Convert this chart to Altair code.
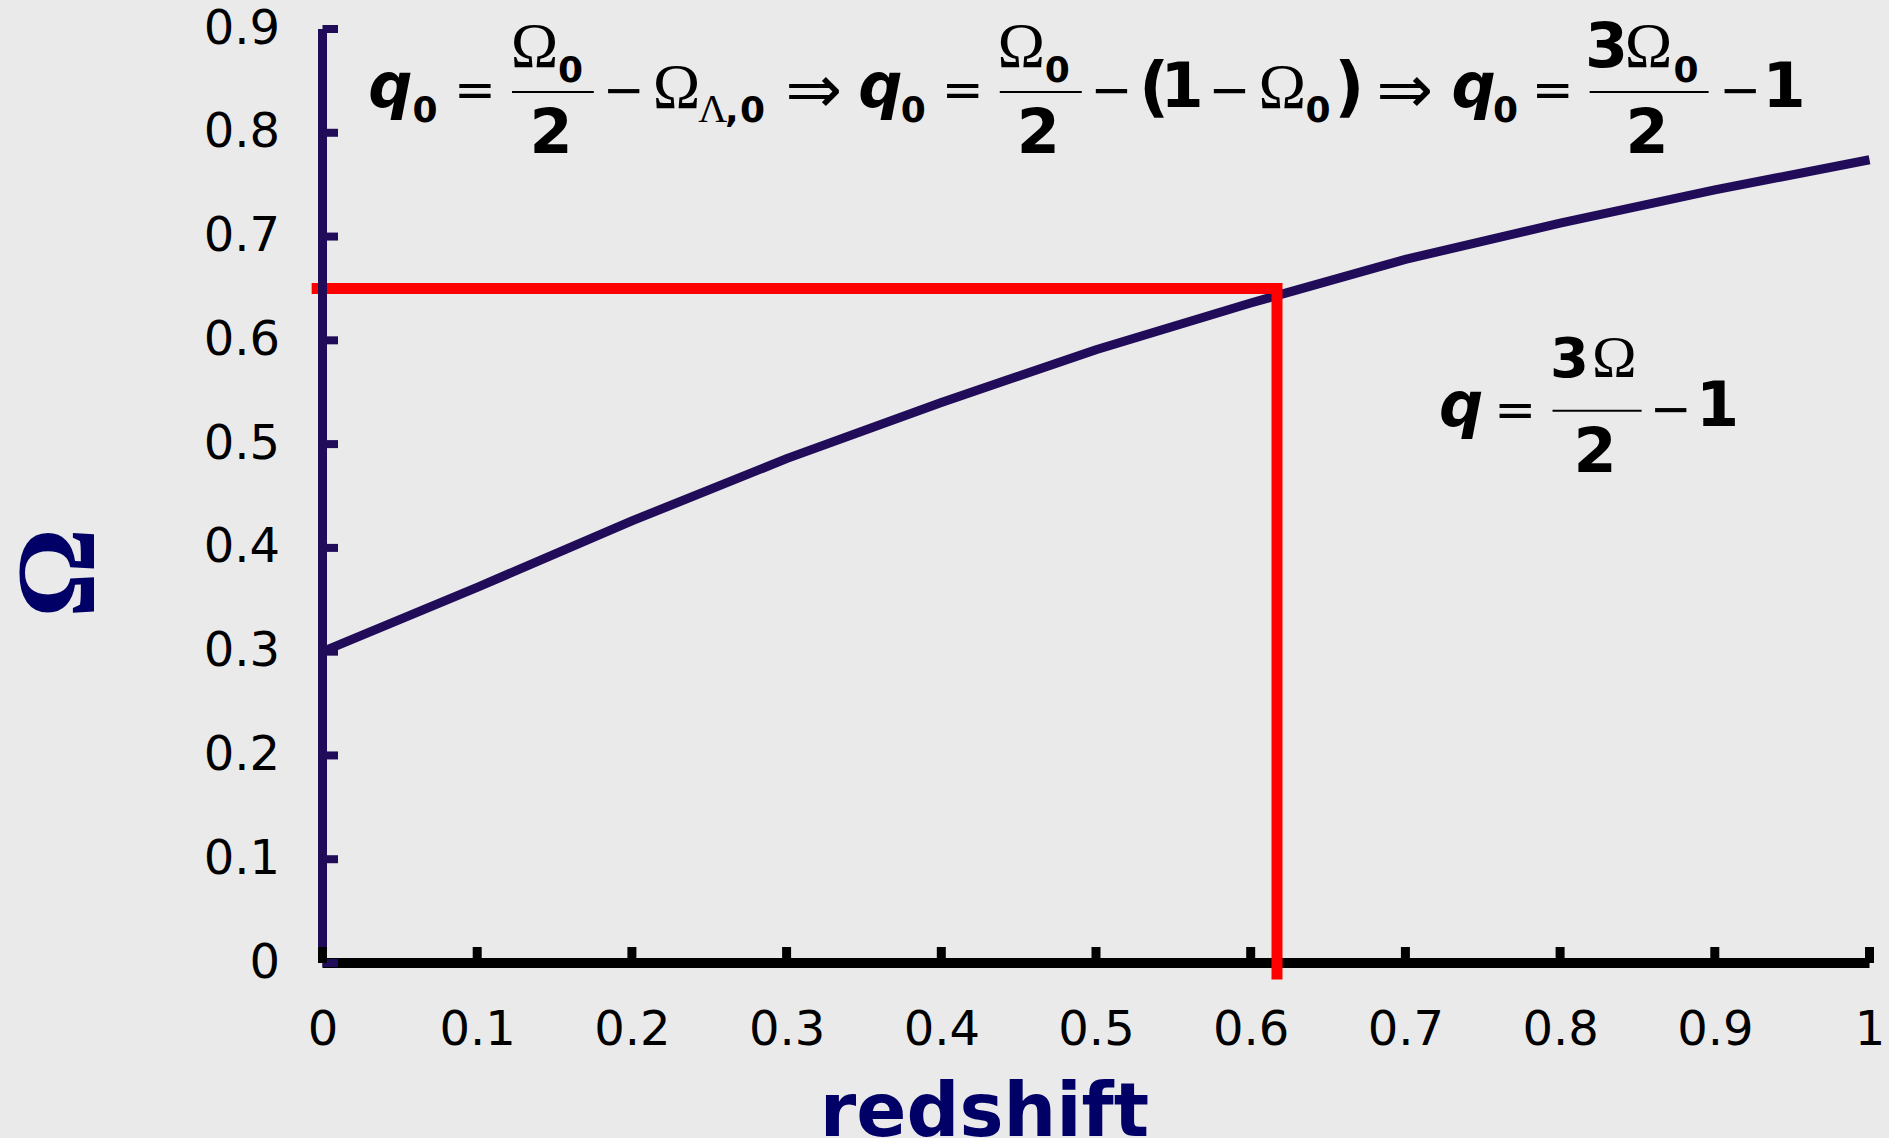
import altair as alt
import pandas as pd

# Matter density parameter Omega as a function of redshift, sampled every 0.1
redshift = [0.0, 0.1, 0.2, 0.3, 0.4, 0.5, 0.6, 0.7, 0.8, 0.9, 1.0]
omega = [0.300, 0.362, 0.426, 0.486, 0.540, 0.591, 0.636, 0.678, 0.713, 0.745, 0.774]

# Red guide: from the Omega axis across to the crossing point, then down to the redshift axis
guide_z = [-0.007, 0.617, 0.617]
guide_omega = [0.650, 0.650, -0.016]

# Axis tick values
x_ticks = [0.0, 0.1, 0.2, 0.3, 0.4, 0.5, 0.6, 0.7, 0.8, 0.9, 1.0]
y_ticks = [0.0, 0.1, 0.2, 0.3, 0.4, 0.5, 0.6, 0.7, 0.8, 0.9]

# Equation glyphs placed in (redshift, Omega) units: text, z, omega, font size, face
equation_glyphs = [
    # q0 = Omega0/2 - Omega_Lambda,0 => q0 = Omega0/2 - (1 - Omega0) => q0 = 3 Omega0/2 - 1
    ("q", 0.0439, 0.8248, 62, "italic"),
    ("0", 0.0662, 0.8104, 36, "bold"),
    ("=", 0.0985, 0.8248, 50, "plain"),
    ("Ω", 0.1370, 0.8634, 64, "serif"),
    ("0", 0.1603, 0.8489, 36, "bold"),
    ("2", 0.1477, 0.7805, 62, "bold"),
    ("\u2212", 0.1948, 0.8248, 50, "plain"),
    ("Ω", 0.2288, 0.8238, 64, "serif"),
    ("Λ", 0.2523, 0.8104, 40, "serif"),
    (",", 0.2646, 0.8104, 36, "bold"),
    ("0", 0.2779, 0.8104, 36, "bold"),
    ("⇒", 0.3176, 0.8190, 68, "plain"),
    ("q", 0.3606, 0.8248, 62, "italic"),
    ("0", 0.3819, 0.8104, 36, "bold"),
    ("=", 0.4139, 0.8248, 50, "plain"),
    ("Ω", 0.4517, 0.8634, 64, "serif"),
    ("0", 0.4750, 0.8489, 36, "bold"),
    ("2", 0.4627, 0.7805, 62, "bold"),
    ("\u2212", 0.5102, 0.8248, 50, "plain"),
    ("(", 0.5376, 0.8230, 66, "bold"),
    ("1", 0.5557, 0.8248, 62, "bold"),
    ("\u2212", 0.5864, 0.8248, 50, "plain"),
    ("Ω", 0.6204, 0.8238, 64, "serif"),
    ("0", 0.6436, 0.8104, 36, "bold"),
    (")", 0.6637, 0.8230, 66, "bold"),
    ("⇒", 0.6995, 0.8190, 68, "plain"),
    ("q", 0.7441, 0.8248, 62, "italic"),
    ("0", 0.7648, 0.8104, 36, "bold"),
    ("=", 0.7952, 0.8248, 50, "plain"),
    ("3", 0.8300, 0.8634, 62, "bold"),
    ("Ω", 0.8572, 0.8634, 64, "serif"),
    ("0", 0.8814, 0.8489, 36, "bold"),
    ("2", 0.8562, 0.7805, 62, "bold"),
    ("\u2212", 0.9166, 0.8248, 50, "plain"),
    ("1", 0.9448, 0.8248, 62, "bold"),
    # q = 3 Omega/2 - 1
    ("q", 0.7360, 0.5174, 62, "italic"),
    ("=", 0.7709, 0.5165, 50, "plain"),
    ("3", 0.8060, 0.5647, 56, "bold"),
    ("Ω", 0.8350, 0.5647, 60, "serif"),
    ("2", 0.8226, 0.4731, 62, "bold"),
    ("\u2212", 0.8717, 0.5170, 50, "plain"),
    ("1", 0.9018, 0.5174, 62, "bold"),
]

# Fraction bars: start z, end z, omega
fraction_bars = [
    (0.1225, 0.1754, 0.8393),
    (0.4378, 0.4908, 0.8393),
    (0.8191, 0.8960, 0.8393),
    (0.7951, 0.8527, 0.5322),
]

LINE = "#200C58"
NAVY = "#000066"
BG = "#EAEAEA"

xs = alt.Scale(domain=[0, 1], nice=False, zero=False)
ys = alt.Scale(domain=[0, 0.9], nice=False, zero=False)

curve_df = pd.DataFrame({"z": redshift, "omega": omega})
guide_df = pd.DataFrame({"z": guide_z, "omega": guide_omega, "step": [0, 1, 2]})
xtick_df = pd.DataFrame({"z": x_ticks, "omega": [0.0] * len(x_ticks)})
ytick_df = pd.DataFrame({"omega": y_ticks, "z": [0.0] * len(y_ticks)})
xdom_df = pd.DataFrame({"z": [x_ticks[0]], "z_end": [x_ticks[-1]], "omega": [0.0]})
ydom_df = pd.DataFrame({"omega": [y_ticks[0]], "omega_end": [y_ticks[-1]], "z": [0.0]})
bars_df = pd.DataFrame(fraction_bars, columns=["z", "z_end", "omega"])
glyph_df = pd.DataFrame(equation_glyphs, columns=["text", "z", "omega", "size", "face"])

x_axis = alt.Axis(
    title="redshift", values=x_ticks, format="~g",
    domain=False, ticks=False, tickSize=0, grid=False,
    labelFont="DejaVu Sans", labelFontSize=48, labelColor="black",
    labelPadding=43, labelFlush=False, labelOverlap=False,
    titleFont="DejaVu Sans", titleFontSize=74, titleFontWeight="bold",
    titleColor=NAVY, titleX=661.5, titleY=172,
    titleAlign="center", titleBaseline="alphabetic",
)
y_axis = alt.Axis(
    title="Ω", values=y_ticks, format="~g",
    domain=False, ticks=False, tickSize=0, grid=False,
    labelFont="DejaVu Sans", labelFontSize=48, labelColor="black",
    labelPadding=43, labelFlush=False, labelOverlap=False,
    titleFont="Liberation Serif", titleFontSize=112, titleFontWeight="bold",
    titleColor=NAVY, titleX=-229.5, titleY=543.5, titleAngle=270,
    titleAlign="center", titleBaseline="alphabetic",
)


def X():
    return alt.X("z:Q", scale=xs, axis=x_axis)


def Y():
    return alt.Y("omega:Q", scale=ys, axis=y_axis)


curve = alt.Chart(curve_df).mark_line(
    color=LINE, strokeWidth=9, strokeJoin="miter"
).encode(x=X(), y=Y())

x_domain = alt.Chart(xdom_df).mark_rule(color="black", strokeWidth=10).encode(
    x=X(), x2="z_end:Q", y=Y()
)

guide = alt.Chart(guide_df).mark_line(
    color="#FF0000", strokeWidth=11, strokeJoin="miter", strokeCap="butt"
).encode(x=X(), y=Y(), order="step:Q")

y_domain = alt.Chart(ydom_df).mark_rule(color=LINE, strokeWidth=9).encode(
    x=X(), y=Y(), y2="omega_end:Q"
)

y_tick_marks = alt.Chart(ytick_df).mark_rule(
    color=LINE, strokeWidth=8, x2Offset=15.5
).encode(x=X(), x2="z:Q", y=Y())

x_tick_marks = alt.Chart(xtick_df).mark_rule(
    color="black", strokeWidth=9, y2Offset=-16
).encode(x=X(), y=Y(), y2="omega:Q")

bars = alt.Chart(bars_df).mark_rule(color="black", strokeWidth=2).encode(
    x=X(), x2="z_end:Q", y=Y()
)

faces = {
    "bold": dict(font="DejaVu Sans", fontWeight="bold", fontStyle="normal"),
    "italic": dict(font="DejaVu Sans", fontWeight="bold", fontStyle="italic"),
    "plain": dict(font="DejaVu Sans", fontWeight="normal", fontStyle="normal"),
    "serif": dict(font="Liberation Serif", fontWeight="normal", fontStyle="normal"),
}

glyph_layers = []
for face, style in faces.items():
    glyph_layers.append(
        alt.Chart(glyph_df)
        .transform_filter(alt.datum.face == face)
        .mark_text(align="center", baseline="alphabetic", color="black", **style)
        .encode(
            x=X(),
            y=Y(),
            text="text:N",
            size=alt.Size("size:Q", scale=None, legend=None),
        )
    )

chart = alt.layer(
    curve, x_domain, guide, y_domain, y_tick_marks, x_tick_marks, bars, *glyph_layers
).properties(
    width=1547,
    height=934,
    background=BG,
    padding={"left": 322.5, "top": 29, "right": 19.5, "bottom": 175},
    autosize=alt.AutoSizeParams(type="none"),
).configure_view(strokeWidth=0)

chart.save("out.html", embed_options={"renderer": "svg", "actions": False})
